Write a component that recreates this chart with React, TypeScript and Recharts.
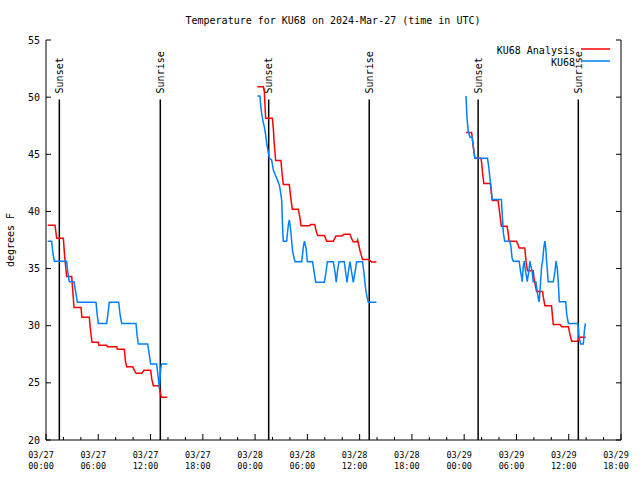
import React from 'react';
import { LineChart, Line, XAxis, YAxis, ReferenceLine } from 'recharts';

const FONT = '"DejaVu Sans Mono", "Liberation Mono", monospace';

// [hour since 03/27 00:00 UTC, degrees F]
const analysisDay1: [number, number][] = [
  [0.19, 38.8], [1.03, 38.8], [1.23, 37.65], [1.99, 37.65], [2.15, 36.0], [2.37, 34.3],
  [2.95, 34.3], [3.08, 33.0], [3.21, 31.6], [4.02, 31.6], [4.12, 30.75], [4.97, 30.75],
  [5.08, 29.8], [5.28, 28.55], [6.0, 28.55], [6.08, 28.3], [6.96, 28.3], [7.05, 28.15],
  [8.11, 28.15], [8.2, 27.95], [8.99, 27.95], [9.12, 26.9], [9.26, 26.4], [9.95, 26.4],
  [10.2, 26.0], [10.33, 25.85], [10.98, 25.85], [11.25, 26.1], [12.01, 26.1], [12.15, 25.3],
  [12.32, 24.75], [13.0, 24.75], [13.1, 24.2], [13.24, 23.75], [13.93, 23.75],
];
const analysisDay2: [number, number][] = [
  [24.26, 50.9], [24.95, 50.9], [25.06, 50.5], [25.21, 48.15], [25.98, 48.15], [26.1, 47.2],
  [26.2, 45.9], [26.36, 44.45], [26.97, 44.45], [27.1, 43.3], [27.24, 42.35], [27.93, 42.35],
  [28.08, 41.3], [28.27, 40.2], [28.96, 40.2], [29.16, 39.4], [29.27, 38.75], [30.23, 38.75],
  [30.4, 38.85], [30.85, 38.85], [31.0, 38.3], [31.18, 37.9], [31.95, 37.9], [32.22, 37.4],
  [32.98, 37.4], [33.29, 37.85], [33.94, 37.85], [34.2, 38.0], [34.89, 38.0], [35.1, 37.6],
  [35.27, 37.35], [35.7, 37.35], [35.77, 37.5], [36.03, 36.6], [36.33, 35.8], [37.06, 35.8],
  [37.36, 35.57], [37.93, 35.57],
];
const analysisDay3: [number, number][] = [
  [48.21, 46.9], [48.85, 46.9], [48.92, 46.5], [49.04, 45.7], [49.23, 44.65], [49.92, 44.65],
  [50.0, 44.3], [50.11, 43.35], [50.26, 42.45], [51.02, 42.45], [51.13, 41.5], [51.24, 40.95],
  [51.89, 40.95], [52.08, 39.85], [52.2, 39.1], [52.27, 38.7], [52.92, 38.7], [53.04, 38.2],
  [53.15, 37.4], [54.0, 37.4], [54.2, 37.05], [54.31, 36.8], [54.96, 36.8], [55.08, 35.75],
  [55.16, 35.3], [55.27, 34.8], [55.92, 34.8], [56.04, 34.0], [56.23, 33.3], [56.31, 33.0],
  [57.0, 33.0], [57.08, 32.5], [57.27, 31.75], [58.03, 31.75], [58.15, 30.7], [58.23, 30.1],
  [59.0, 30.1], [59.19, 29.9], [59.96, 29.9], [60.15, 29.2], [60.34, 28.65], [61.03, 28.65],
  [61.2, 29.0], [61.95, 29.0],
];

const obsDay1: [number, number][] = [
  [0.19, 37.4], [0.65, 37.4], [0.8, 36.3], [0.96, 35.65], [2.37, 35.65], [2.5, 34.7],
  [2.68, 33.85], [3.21, 33.85], [3.4, 33.0], [3.6, 32.05], [5.74, 32.05], [5.87, 31.0],
  [6.0, 30.2], [6.96, 30.2], [7.1, 31.0], [7.27, 32.05], [8.34, 32.05], [8.5, 31.0],
  [8.69, 30.2], [10.33, 30.2], [10.45, 29.2], [10.6, 28.4], [11.67, 28.4], [11.85, 27.5],
  [12.01, 26.65], [12.7, 26.65], [12.93, 25.1], [13.02, 24.5], [13.16, 26.2], [13.25, 26.65],
  [13.93, 26.65],
];
const obsDay2: [number, number][] = [
  [24.26, 50.1], [24.56, 50.1], [24.64, 49.3], [24.75, 48.6], [24.87, 48.06], [25.06, 47.4],
  [25.21, 46.7], [25.33, 45.96], [25.64, 44.65], [25.9, 44.5], [26.1, 43.6], [26.48, 42.9],
  [26.79, 42.3], [26.97, 41.44], [27.05, 41.0], [27.17, 38.3], [27.24, 37.39], [27.62, 37.39],
  [27.81, 38.8], [27.93, 39.25], [28.08, 38.4], [28.31, 36.48], [28.58, 35.6], [29.35, 35.6],
  [29.54, 36.9], [29.66, 37.39], [29.85, 36.8], [30.0, 35.6], [30.6, 35.6], [30.77, 34.73],
  [30.96, 33.8], [31.95, 33.8], [32.14, 34.7], [32.29, 35.6], [32.98, 35.6], [33.17, 34.7],
  [33.32, 33.8], [33.44, 34.7], [33.63, 35.6], [34.24, 35.6], [34.39, 34.7], [34.55, 33.8],
  [34.7, 34.7], [34.89, 35.6], [35.08, 34.7], [35.27, 33.8], [35.47, 34.7], [35.66, 35.6],
  [36.33, 35.6], [36.49, 34.7], [36.69, 33.2], [36.8, 32.7], [36.99, 32.05], [37.93, 32.05],
];
const obsDay3: [number, number][] = [
  [48.21, 50.1], [48.32, 48.2], [48.47, 47.0], [48.66, 46.5], [48.92, 46.5], [49.04, 45.7],
  [49.23, 44.65], [50.68, 44.65], [50.83, 43.8], [51.02, 42.45], [51.13, 41.8], [51.2, 41.05],
  [52.27, 41.05], [52.39, 39.5], [52.5, 38.1], [52.65, 37.4], [53.23, 37.4], [53.35, 37.0],
  [53.5, 35.9], [53.65, 35.65], [54.31, 35.65], [54.47, 34.75], [54.58, 34.3], [54.66, 33.85],
  [54.77, 35.1], [54.89, 35.65], [55.04, 34.75], [55.16, 34.3], [55.23, 33.85], [55.42, 34.75],
  [55.54, 35.65], [55.65, 35.2], [55.8, 34.75], [55.92, 33.85], [56.23, 33.85], [56.38, 33.0],
  [56.54, 32.25], [56.61, 32.1], [56.77, 33.85], [56.89, 35.2], [57.0, 35.65], [57.15, 36.9],
  [57.27, 37.4], [57.38, 36.6], [57.46, 35.65], [57.65, 33.85], [58.23, 33.85], [58.42, 34.75],
  [58.54, 35.65], [58.69, 35.0], [58.8, 33.85], [58.92, 32.1], [59.65, 32.1], [59.77, 31.0],
  [59.96, 30.2], [61.03, 30.2], [61.1, 29.9], [61.18, 29.05], [61.37, 28.4], [61.68, 28.4],
  [61.8, 29.6], [61.91, 30.2],
];

const sunEventHours = [1.53, 13.12, 25.56, 37.1, 49.6, 61.1];
const sunEventNames = ['Sunset', 'Sunrise', 'Sunset', 'Sunrise', 'Sunset', 'Sunrise'];

const hourTicks = Array.from({ length: 34 }, (_, i) => i * 2);
const tempTicks = [20, 25, 30, 35, 40, 45, 50, 55];

const joinDays = (days: [number, number][][]) => {
  const out: { h: number; v: number | null }[] = [];
  days.forEach((day, i) => {
    if (i > 0) out.push({ h: (day[0][0] + out[out.length - 1].h) / 2, v: null });
    day.forEach(([h, v]) => out.push({ h, v }));
  });
  return out;
};

const analysisData = joinDays([analysisDay1, analysisDay2, analysisDay3]);
const obsData = joinDays([obsDay1, obsDay2, obsDay3]);

const pad = (n: number) => (n < 10 ? `0${n}` : `${n}`);

const BottomTick = (props: any) => {
  const { x, y, payload } = props;
  const h = payload.value;
  const major = h % 6 === 0;
  return (
    <g>
      <line x1={x} x2={x} y1={y} y2={y - (major ? 6 : 3)} stroke="#000" />
      {major && (
        <text x={x - 5} y={y + 18} textAnchor="middle" fontFamily={FONT} fontSize={8.5} fill="#000">
          <tspan x={x - 5}>{`03/${27 + Math.floor(h / 24)}`}</tspan>
          <tspan x={x - 5} dy={10.5}>{`${pad(h % 24)}:00`}</tspan>
        </text>
      )}
    </g>
  );
};

const TopTick = (props: any) => {
  const { x, y, payload } = props;
  const major = payload.value % 6 === 0;
  return <line x1={x} x2={x} y1={y} y2={y + (major ? 6 : 3)} stroke="#000" />;
};

const LeftTick = (props: any) => {
  const { x, y, payload } = props;
  return (
    <g>
      <line x1={x} x2={x + 5} y1={y} y2={y} stroke="#000" />
      <text x={x - 6} y={y} dy="0.35em" textAnchor="end" fontFamily={FONT} fontSize={10} fill="#000">
        {payload.value}
      </text>
    </g>
  );
};

const RightTick = (props: any) => {
  const { x, y } = props;
  return <line x1={x} x2={x - 5} y1={y} y2={y} stroke="#000" />;
};

const sunLabel = (name: string) => (props: any) => {
  const vb = props.viewBox || {};
  const x = vb.x;
  const y = vb.y - 6;
  return (
    <text
      x={x}
      y={y}
      transform={`rotate(-90, ${x}, ${y})`}
      textAnchor="start"
      dominantBaseline="central"
      fontFamily={FONT}
      fontSize={10}
      fill="#000"
    >
      {name}
    </text>
  );
};

export default function App() {
  return (
    <div style={{ position: 'absolute', left: 0, top: 0, width: 640, height: 480, background: '#fff' }}>
      <LineChart width={640} height={480} margin={{ top: 40, right: 0, bottom: 0, left: 0 }}>
        <XAxis
          xAxisId="bottom"
          dataKey="h"
          type="number"
          domain={[0, 66]}
          ticks={hourTicks}
          interval={0}
          orientation="bottom"
          height={40}
          tickSize={0}
          tickMargin={0}
          tickLine={false}
          tick={<BottomTick />}
          axisLine={{ stroke: '#000' }}
          allowDataOverflow
        />
        <XAxis
          xAxisId="top"
          dataKey="h"
          type="number"
          domain={[0, 66]}
          ticks={hourTicks}
          interval={0}
          orientation="top"
          height={0}
          tickSize={0}
          tickMargin={0}
          tickLine={false}
          tick={<TopTick />}
          axisLine={{ stroke: '#000' }}
          allowDataOverflow
        />
        <YAxis
          yAxisId="left"
          type="number"
          domain={[20, 55]}
          ticks={tempTicks}
          interval={0}
          width={46}
          tickSize={0}
          tickMargin={0}
          tickLine={false}
          tick={<LeftTick />}
          axisLine={{ stroke: '#000' }}
          allowDataOverflow
        />
        <YAxis
          yAxisId="right"
          orientation="right"
          type="number"
          domain={[20, 55]}
          ticks={tempTicks}
          interval={0}
          width={19}
          tickSize={0}
          tickMargin={0}
          tickLine={false}
          tick={<RightTick />}
          axisLine={{ stroke: '#000' }}
          allowDataOverflow
        />
        {sunEventHours.map((h, i) => (
          <ReferenceLine
            key={`sun-${i}`}
            xAxisId="bottom"
            yAxisId="left"
            segment={[{ x: h, y: 20 }, { x: h, y: 49.8 }]}
            stroke="#000"
            strokeWidth={1.5}
            label={sunLabel(sunEventNames[i])}
          />
        ))}
        <Line
          xAxisId="bottom"
          yAxisId="left"
          data={analysisData}
          dataKey="v"
          type="linear"
          stroke="#ff0000"
          strokeWidth={1.5}
          dot={false}
          connectNulls={false}
          isAnimationActive={false}
        />
        <Line
          xAxisId="bottom"
          yAxisId="left"
          data={obsData}
          dataKey="v"
          type="linear"
          stroke="#0080ff"
          strokeWidth={1.5}
          dot={false}
          connectNulls={false}
          isAnimationActive={false}
        />
      </LineChart>
      <svg
        width={640}
        height={480}
        style={{ position: 'absolute', left: 0, top: 0, pointerEvents: 'none' }}
      >
        <text x={333} y={24} textAnchor="middle" fontFamily={FONT} fontSize={10} fill="#000">
          Temperature for KU68 on 2024-Mar-27 (time in UTC)
        </text>
        <text
          x={10}
          y={240}
          transform="rotate(-90, 10, 240)"
          textAnchor="middle"
          dominantBaseline="central"
          fontFamily={FONT}
          fontSize={10}
          fill="#000"
        >
          degrees F
        </text>
        <text x={575} y={54} textAnchor="end" fontFamily={FONT} fontSize={10} fill="#000">
          KU68 Analysis
        </text>
        <line x1={581} x2={610} y1={49} y2={49} stroke="#ff0000" strokeWidth={1.5} />
        <text x={575} y={66} textAnchor="end" fontFamily={FONT} fontSize={10} fill="#000">
          KU68
        </text>
        <line x1={581} x2={610} y1={61} y2={61} stroke="#0080ff" strokeWidth={1.5} />
      </svg>
    </div>
  );
}
